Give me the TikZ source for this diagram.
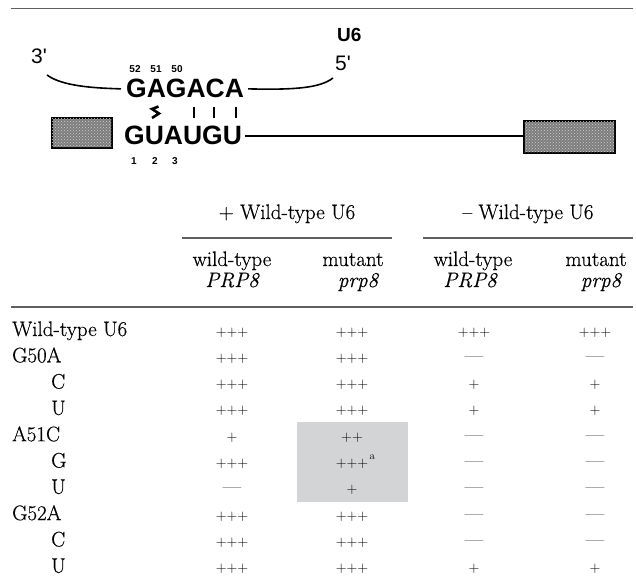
\documentclass[tikz,border=0pt]{standalone}
\usepackage{fontspec}
\usetikzlibrary{patterns}
\newfontfamily\helv{Liberation Sans}
\newfontfamily\tabfont{Latin Modern Roman}[FakeBold=0.5]
\definecolor{hilite}{RGB}{211,212,214}
\definecolor{rulegray}{RGB}{95,95,95}
\definecolor{exongray}{RGB}{125,125,125}
\newcommand\nodash{{\fontsize{20}{22}\selectfont —}}
\begin{document}
\begin{tikzpicture}[x=1pt,y=-1pt,
  seq/.style={font=\helv\bfseries\fontsize{26.5}{28}\selectfont, inner sep=0, anchor=base west},
  prime/.style={font=\helv\fontsize{21}{22}\selectfont, inner sep=0, anchor=base west},
  rnaname/.style={font=\helv\bfseries\fontsize{19}{20}\selectfont, inner sep=0, anchor=base west},
  posnum/.style={font=\helv\bfseries\fontsize{10}{11}\selectfont, inner sep=0, anchor=base},
  exon/.style={draw=black, line width=2.2pt, fill=exongray,
    postaction={pattern=crosshatch dots, pattern color=black!18}},
  strand/.style={line width=1.6pt},
  pairmark/.style={line width=2.6pt},
  rowlbl/.style={font=\tabfont\fontsize{21}{24}\selectfont, inner sep=0, anchor=base west},
  cell/.style={font=\fontsize{15}{17}\selectfont, inner sep=0, anchor=base},
  head/.style={font=\tabfont\fontsize{21}{24}\selectfont, inner sep=0, anchor=base},
  tablerule/.style={draw=rulegray, line width=1.4pt}]
\useasboundingbox (0,0) rectangle (636,585);

% top rule
\draw[rulegray, line width=1pt] (11,9) -- (633,9);

% ---- U6 / 5' splice site pairing ----
\node[rnaname] (u6) at (337,42) {U6};
\node[prime] (p5) at (335,71) {5'};
\node[prime] (p3) at (31,64) {3'};
\coordinate (c3) at (47,75);
\coordinate (c5) at (333,78);

\node[seq] (gag) at (126,98) {GAGACA};
\node[seq] (gua) at (124,145) {GUAUGU};

\node[posnum] (n52) at (135,73) {52};
\node[posnum] (n51) at (156,73) {51};
\node[posnum] (n50) at (177,73) {50};
\node[posnum] (n1) at (134,165) {1};
\node[posnum] (n2) at (155,165) {2};
\node[posnum] (n3) at (175,165) {3};

\node[exon, minimum width=60pt, minimum height=30pt, inner sep=0] (exL) at (82,133) {};
\node[exon, minimum width=91pt, minimum height=32pt, inner sep=0] (exR) at (569.5,137) {};

% U6 strand
\draw[strand] (c3) .. controls (62,86) and (92,88) .. ([xshift=-5pt]gag.west);
\draw[strand] ([xshift=4pt]gag.east) .. controls (295,90) and (320,88) .. (c5);
% intron strand
\draw[strand] ([xshift=3pt]gua.east) -- (gua.east -| exR.west);

% base-pair marks: wobble symbol and three Watson-Crick bars
\draw[pairmark, line join=miter] (158.5,106.5) -- (152,109) -- (159,113.5) -- (152,118);
\foreach \x in {194,214,236}
  \draw[pairmark] (\x,107) -- (\x,118);

% ---- table ----
\fill[hilite] (297,422) rectangle (408,502);

\node[head] (hplus) at (287,219) {+ Wild-type U6};
\node[head] (hminus) at (528,219) {– Wild-type U6};
\draw[tablerule] (182,238) -- (392,238);
\draw[tablerule] (423,238) -- (633,238);

\node[head] (h1a) at (232,266) {wild-type};
\node[head] (h1b) at (232,287) {\itshape PRP8};
\node[head] (h2a) at (353,266) {mutant};
\node[head] (h2b) at (358,287) {\itshape prp8};
\node[head] (h3a) at (473,266) {wild-type};
\node[head] (h3b) at (470,287) {\itshape PRP8};
\node[head] (h4a) at (596,266) {mutant};
\node[head] (h4b) at (601,287) {\itshape prp8};

\draw[tablerule] (11,307) -- (633,307);

\foreach \lab/\lx/\a/\b/\c/\d [count=\i from 0] in {
    Wild-type U6/12/+++/+++/+++/+++,
    G50A/12/+++/+++/\nodash/\nodash,
    C/51/+++/+++/+/+,
    U/51/+++/+++/+/+,
    A51C/12/+/++/\nodash/\nodash,
    G/51/+++/+++/\nodash/\nodash,
    U/51/\nodash/+/\nodash/\nodash,
    G52A/12/+++/+++/\nodash/\nodash,
    C/51/+++/+++/\nodash/\nodash,
    U/51/+++/+++/+/+}
{
  \pgfmathsetmacro\yb{336+26.3*\i}
  \node[rowlbl] (r\i) at (\lx,\yb) {\lab};
  \node[cell] (r\i c1) at (232,\yb) {\a};
  \node[cell] (r\i c2) at (352,\yb) {\b};
  \node[cell] (r\i c3) at (474,\yb) {\c};
  \node[cell] (r\i c4) at (595,\yb) {\d};
}
\node[font=\fontsize{11}{12}\selectfont, inner sep=0, anchor=base west] (supa)
  at ([xshift=1pt,yshift=8pt]r5c2.base east) {a};
\end{tikzpicture}
\end{document}
